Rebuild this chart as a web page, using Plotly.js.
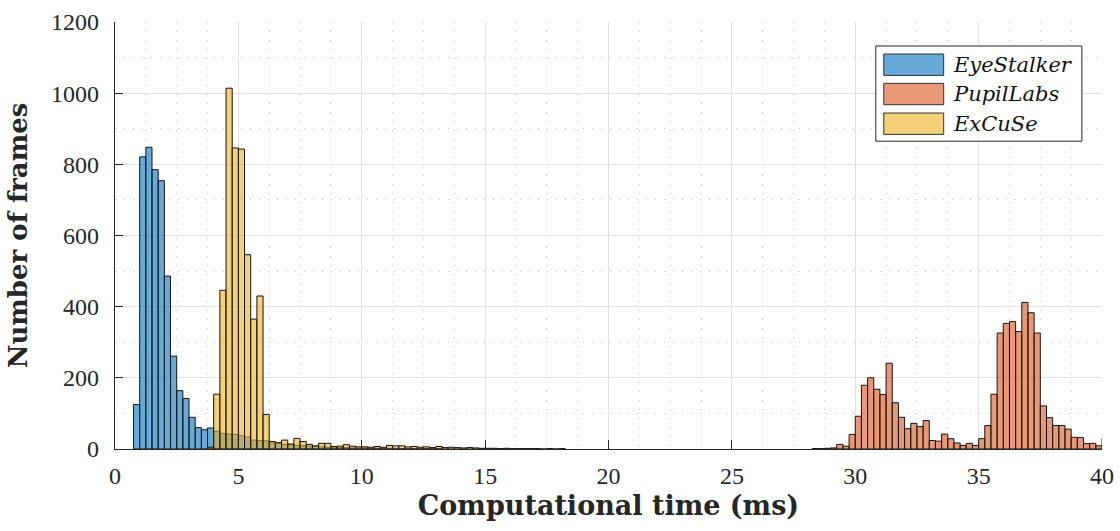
<!DOCTYPE html>
<html>
<head>
<meta charset="utf-8">
<script src="https://cdn.plot.ly/plotly-3.0.1.min.js"></script>
<style>
  html, body { margin: 0; padding: 0; background: #ffffff; }
  #chart { width: 1120px; height: 531px; }
</style>
</head>
<body>
<div id="chart"></div>
<script>
// ---- Data (histogram counts, bin width 0.25 ms) ----
var binWidth = 0.25;

var seriesNames = ["EyeStalker", "PupilLabs", "ExCuSe"];

var eyeStalkerStart = 0.75;
var eyeStalkerCounts = [125, 821, 848, 785, 754, 486, 261, 164, 142, 89, 60, 54, 59,
  50, 44, 42, 41, 37, 34, 25, 24, 23, 17, 15, 13, 12, 10, 9, 8, 7, 6, 5, 5, 4, 4, 3, 3, 3,
  2, 2, 2, 2, 2, 1, 1, 1, 1, 1, 1, 1];

var pupilLabsStart = 28.25;
var pupilLabsCounts = [1, 1, 2, 3, 13, 8, 41, 92, 179, 200, 168, 153, 241, 130, 89, 57,
  72, 63, 80, 24, 22, 42, 29, 17, 10, 16, 10, 29, 66, 154, 326, 353, 358, 330, 412, 383,
  326, 121, 88, 66, 66, 56, 33, 32, 15, 16, 9, 30];

var exCuSeStart = 3.75;
var exCuSeCounts = [5, 154, 446, 1014, 846, 843, 546, 365, 430, 97, 21, 18, 25, 14, 30,
  21, 13, 9, 16, 16, 7, 8, 12, 8, 6, 6, 5, 7, 5, 10, 9, 9, 6, 7, 5, 6, 4, 7, 4, 5, 4, 3,
  4, 3, 2, 2, 2, 1, 2, 1, 1, 1, 1, 1, 0, 1, 0, 1];

var xTicks = [0, 5, 10, 15, 20, 25, 30, 35, 40];
var yTicks = [0, 200, 400, 600, 800, 1000, 1200];

var xLabel = "Computational time (ms)";
var yLabel = "Number of frames";

// ---- Styles ----
var fills = ["rgba(0,114,189,0.6)", "rgba(217,83,25,0.6)", "rgba(237,177,32,0.6)"];
var edge = "rgb(20,20,20)";
var textColor = "#262626";

function centers(start, counts) {
  return counts.map(function (_, i) { return start + (i + 0.5) * binWidth; });
}

function barTrace(name, start, counts, fill) {
  return {
    type: "bar",
    name: name,
    x: centers(start, counts),
    y: counts,
    width: binWidth,
    marker: { color: fill, line: { color: edge, width: 1 } },
    showlegend: false,
    hoverinfo: "x+y+name"
  };
}

var data = [
  barTrace(seriesNames[0], eyeStalkerStart, eyeStalkerCounts, fills[0]),
  barTrace(seriesNames[1], pupilLabsStart, pupilLabsCounts, fills[1]),
  barTrace(seriesNames[2], exCuSeStart, exCuSeCounts, fills[2])
];

// ---- Legend (drawn as a box with swatches in paper coordinates) ----
var legBox = { x0: 0.7708, x1: 0.9796, y0: 0.7208, y1: 0.9438 };
var swX0 = 0.7789, swX1 = 0.8396;
var rowCenters = [0.9000, 0.8313, 0.7618];
var swHalf = 0.0250;
var shapes = [{
  type: "rect", xref: "paper", yref: "paper",
  x0: legBox.x0, x1: legBox.x1, y0: legBox.y0, y1: legBox.y1,
  fillcolor: "#ffffff", line: { color: textColor, width: 1 }, layer: "above"
}];
var annotations = [];
seriesNames.forEach(function (nm, i) {
  shapes.push({
    type: "rect", xref: "paper", yref: "paper",
    x0: swX0, x1: swX1, y0: rowCenters[i] - swHalf, y1: rowCenters[i] + swHalf,
    fillcolor: fills[i], line: { color: "#333333", width: 1 }, layer: "above"
  });
  annotations.push({
    xref: "paper", yref: "paper", x: 0.8470, y: rowCenters[i],
    xanchor: "left", yanchor: "middle", showarrow: false,
    text: "<i>" + nm + "</i>",
    font: { family: "DejaVu Serif", size: 21, color: "#111111" }
  });
});

var layout = {
  width: 1120,
  height: 531,
  margin: { l: 114.5, r: 17.5, t: 21.7, b: 82 },
  paper_bgcolor: "#ffffff",
  plot_bgcolor: "#ffffff",
  barmode: "overlay",
  bargap: 0,
  font: { family: "Liberation Serif", color: textColor },
  xaxis: {
    range: [0, 40],
    tickvals: xTicks,
    ticktext: xTicks.map(String),
    ticks: "inside",
    ticklen: 9,
    tickwidth: 1,
    tickcolor: textColor,
    ticklabelstandoff: 5,
    tickfont: { family: "Liberation Serif", size: 24, color: textColor },
    showline: true,
    linecolor: textColor,
    linewidth: 1.2,
    showgrid: true,
    gridcolor: "#e2e2e2",
    gridwidth: 1,
    zeroline: false,
    minor: { dtick: 1.25, tick0: 0, showgrid: true, gridcolor: "#c4c4c4", griddash: "1px,8px", gridwidth: 1, ticks: "" },
    title: { text: "<b>" + xLabel + "</b>", font: { family: "DejaVu Serif", size: 27, color: textColor }, standoff: 8 },
    fixedrange: true
  },
  yaxis: {
    range: [0, 1200],
    tickvals: yTicks,
    ticktext: yTicks.map(String),
    ticks: "inside",
    ticklen: 8,
    tickwidth: 1,
    tickcolor: textColor,
    ticklabelstandoff: 10,
    tickfont: { family: "Liberation Serif", size: 24, color: textColor },
    showline: true,
    linecolor: textColor,
    linewidth: 1.2,
    showgrid: true,
    gridcolor: "#e2e2e2",
    gridwidth: 1,
    zeroline: false,
    minor: { dtick: 100, tick0: 0, showgrid: true, gridcolor: "#c4c4c4", griddash: "1px,8px", gridwidth: 1, ticks: "" },
    title: { text: "<b>" + yLabel + "</b>", font: { family: "DejaVu Serif", size: 26, color: textColor }, standoff: 16 },
    fixedrange: true
  },
  shapes: shapes,
  annotations: annotations,
  showlegend: false
};

Plotly.newPlot("chart", data, layout, { displayModeBar: false, staticPlot: true });
</script>
</body>
</html>
